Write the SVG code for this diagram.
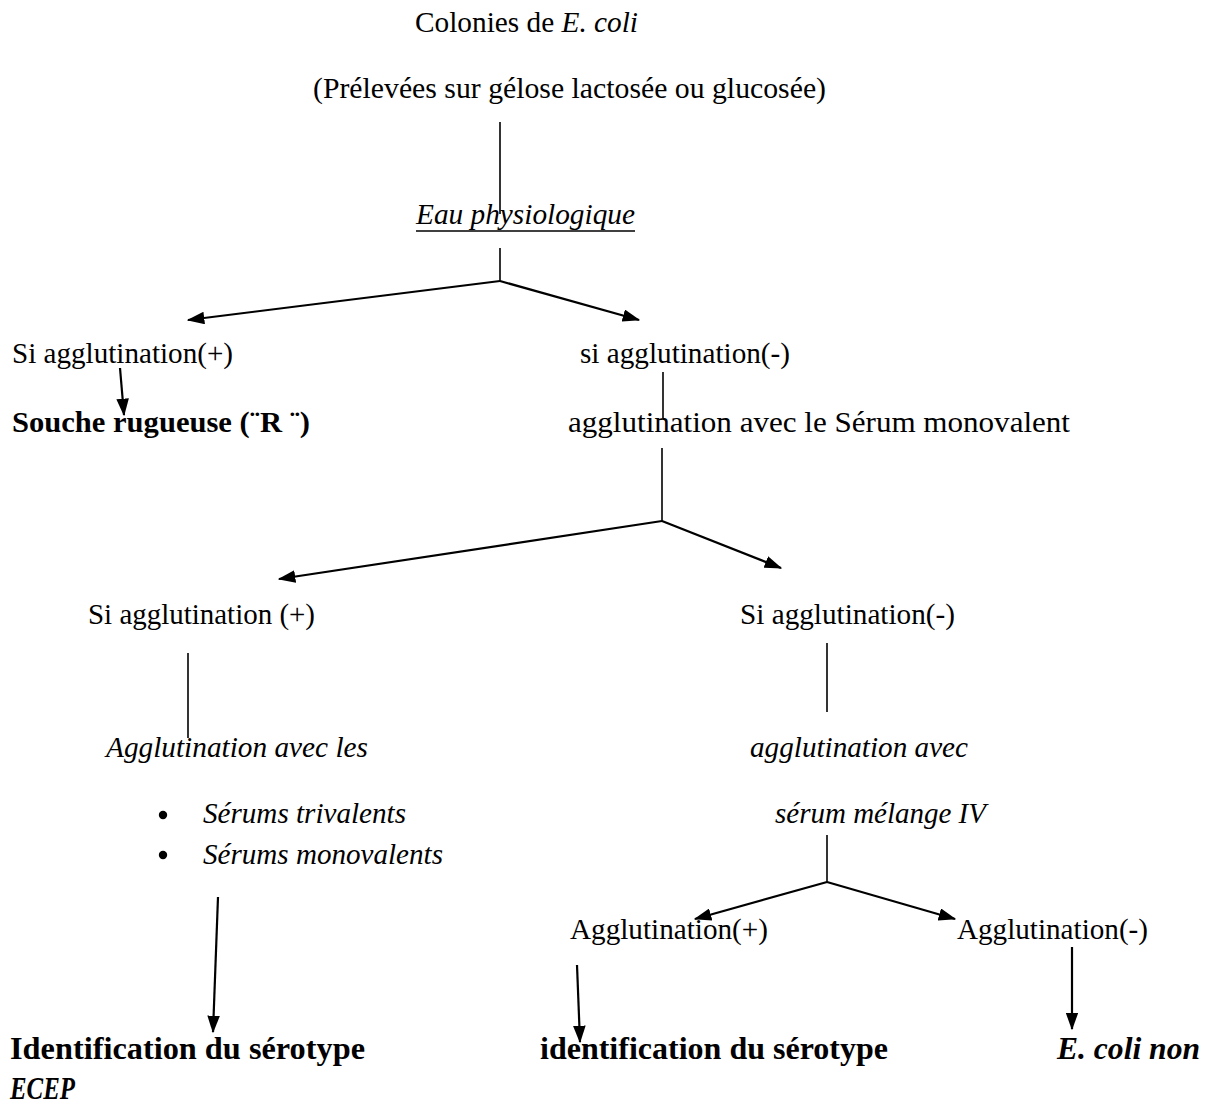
<svg xmlns="http://www.w3.org/2000/svg" width="1211" height="1110" viewBox="0 0 1211 1110">
<defs>
<marker id="ah" viewBox="0 0 14 10" refX="13" refY="5" markerWidth="8" markerHeight="5.72" markerUnits="strokeWidth" orient="auto">
<path d="M0,0 L14,5 L0,10 z" fill="#000"/>
</marker>
<style>
text{font-family:'Liberation Serif','Times New Roman',serif;font-size:29px;fill:#000}
.i{font-style:italic}
.b{font-weight:bold;font-size:30px}
.big{font-size:32px}
.ln{stroke:#000;stroke-width:1.6;fill:none}
.ar{stroke:#000;stroke-width:2.2;fill:none;marker-end:url(#ah)}
</style>
</defs>
<rect width="1211" height="1110" fill="#fff"/>
<g id="connectors">
<line class="ln" x1="500" y1="122" x2="500" y2="214"/>
<line class="ln" x1="500" y1="248" x2="500" y2="281"/>
<line class="ar" x1="500" y1="281" x2="188" y2="320"/>
<line class="ar" x1="500" y1="281" x2="639" y2="320"/>
<line class="ar" x1="120" y1="368" x2="124" y2="415"/>
<line class="ln" x1="663" y1="372" x2="663" y2="418"/>
<line class="ln" x1="662" y1="448" x2="662" y2="521"/>
<line class="ar" x1="662" y1="521" x2="279" y2="579"/>
<line class="ar" x1="662" y1="521" x2="781" y2="568"/>
<line class="ln" x1="188" y1="653" x2="188" y2="738"/>
<line class="ln" x1="827" y1="643" x2="827" y2="712"/>
<line class="ln" x1="827" y1="835" x2="827" y2="882"/>
<line class="ar" x1="827" y1="882" x2="695" y2="919"/>
<line class="ar" x1="827" y1="882" x2="955" y2="919"/>
<line class="ar" x1="218" y1="897" x2="213" y2="1032"/>
<line class="ar" x1="577" y1="965" x2="580" y2="1042"/>
<line class="ar" x1="1072" y1="947" x2="1072" y2="1029"/>
</g>
<g id="n-colonies"><text x="415" y="32" textLength="223" lengthAdjust="spacingAndGlyphs">Colonies de <tspan class="i">E. coli</tspan></text></g>
<g id="n-prelevees"><text x="313" y="98" textLength="513" lengthAdjust="spacingAndGlyphs">(Prélevées sur gélose lactosée ou glucosée)</text></g>
<g id="n-eau"><text class="i" x="416" y="224" textLength="219" lengthAdjust="spacingAndGlyphs">Eau physiologique</text><line x1="416" y1="231" x2="635" y2="231" stroke="#000" stroke-width="1.6"/></g>
<g id="n-si-plus1"><text x="12" y="363" textLength="221" lengthAdjust="spacingAndGlyphs">Si agglutination(+)</text></g>
<g id="n-si-moins1"><text x="580" y="363" textLength="210" lengthAdjust="spacingAndGlyphs">si agglutination(-)</text></g>
<g id="n-souche"><text class="b" x="12" y="432" textLength="298" lengthAdjust="spacingAndGlyphs">Souche rugueuse (¨R ¨)</text></g>
<g id="n-serum-mono"><text x="568" y="432" textLength="502" lengthAdjust="spacingAndGlyphs">agglutination avec le Sérum monovalent</text></g>
<g id="n-si-plus2"><text x="88" y="624" textLength="227" lengthAdjust="spacingAndGlyphs">Si agglutination (+)</text></g>
<g id="n-si-moins2"><text x="740" y="624" textLength="215" lengthAdjust="spacingAndGlyphs">Si agglutination(-)</text></g>
<g id="n-agg-les">
<text class="i" x="106" y="757" textLength="262" lengthAdjust="spacingAndGlyphs">Agglutination avec les</text>
<circle cx="163" cy="815" r="4.2" fill="#000"/>
<text class="i" x="203" y="823" textLength="203" lengthAdjust="spacingAndGlyphs">Sérums trivalents</text>
<circle cx="163" cy="855" r="4.2" fill="#000"/>
<text class="i" x="203" y="864" textLength="240" lengthAdjust="spacingAndGlyphs">Sérums monovalents</text>
</g>
<g id="n-agg-avec">
<text class="i" x="750" y="757" textLength="218" lengthAdjust="spacingAndGlyphs">agglutination avec</text>
<text class="i" x="775" y="823" textLength="211" lengthAdjust="spacingAndGlyphs">sérum mélange IV</text>
</g>
<g id="n-agg-plus"><text x="570" y="939" textLength="198" lengthAdjust="spacingAndGlyphs">Agglutination(+)</text></g>
<g id="n-agg-moins"><text x="957" y="939" textLength="191" lengthAdjust="spacingAndGlyphs">Agglutination(-)</text></g>
<g id="n-ident1">
<text class="b big" x="10" y="1059" textLength="355" lengthAdjust="spacingAndGlyphs">Identification du sérotype</text>
<text class="b i big" x="10" y="1099" textLength="65" lengthAdjust="spacingAndGlyphs">ECEP</text>
</g>
<g id="n-ident2"><text class="b big" x="540" y="1059" textLength="348" lengthAdjust="spacingAndGlyphs">identification du sérotype</text></g>
<g id="n-ecoli-non"><text class="b i big" x="1057" y="1059" textLength="143" lengthAdjust="spacingAndGlyphs">E. coli non</text></g>
</svg>
